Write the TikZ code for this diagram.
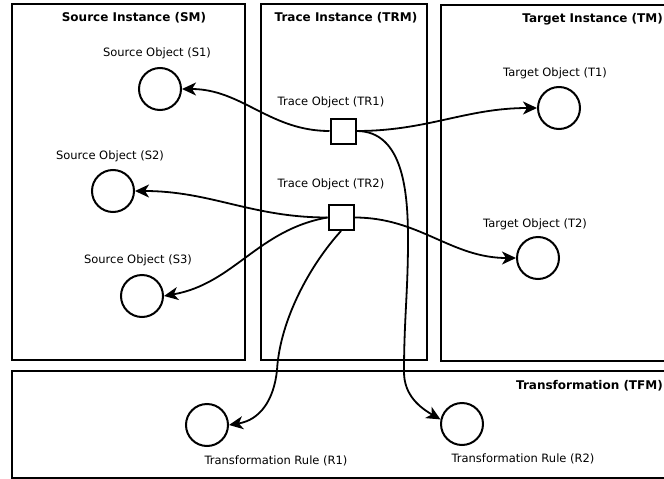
\documentclass[tikz,border=0pt]{standalone}
\usepackage{fontspec}
\setmainfont{DejaVu Sans}
\usetikzlibrary{arrows.meta}
\begin{document}
\begin{tikzpicture}[x=1pt,y=-1pt,
  panel/.style={draw,line width=2.2pt},
  ptitle/.style={font=\bfseries\fontsize{12}{14}\selectfont,inner sep=0pt},
  lbl/.style={font=\fontsize{11.5}{13}\selectfont,inner sep=0pt},
  obj/.style={draw,circle,line width=2pt,minimum size=42pt,inner sep=0pt},
  trc/.style={draw,rectangle,line width=2pt,minimum size=25pt,inner sep=0pt,fill=white},
  conn/.style={line width=1.8pt,-{Stealth[length=14pt,width=13pt,inset=4pt]}}]
\useasboundingbox (0,0) rectangle (664,479);
\clip (0,0) rectangle (664,479);
% panels
\draw[panel] (12,4) rectangle (245,360);
\draw[panel] (261,4) rectangle (427,360);
\draw[panel] (441,5) rectangle (690,361);
\draw[panel] (12,371) rectangle (690,478);
% titles
\node[ptitle] (tsm) at (134,18) {Source Instance (SM)};
\node[ptitle] (ttrm) at (346,18) {Trace Instance (TRM)};
\node[ptitle,anchor=east] (ttm) at (663,19) {Target Instance (TM)};
\node[ptitle,anchor=east] (ttfm) at (663,386) {Transformation (TFM)};
% objects
\node[obj] (s1) at (160,89) {};
\node[obj] (s2) at (113,191) {};
\node[obj] (s3) at (142,296) {};
\node[obj] (t1) at (559,108) {};
\node[obj] (t2) at (538,258) {};
\node[obj] (r1) at (207,425) {};
\node[obj] (r2) at (462,424) {};
\node[lbl] (ls1) at (157,53) {Source Object (S1)};
\node[lbl] (ls2) at (110,156) {Source Object (S2)};
\node[lbl] (ls3) at (138,260) {Source Object (S3)};
\node[lbl] (lt1) at (555,73) {Target Object (T1)};
\node[lbl] (lt2) at (535,224) {Target Object (T2)};
\node[lbl] (lr1) at (276,461) {Transformation Rule (R1)};
\node[lbl] (lr2) at (523,459) {Transformation Rule (R2)};
\node[lbl] (ltr1) at (331,102) {Trace Object (TR1)};
\node[lbl] (ltr2) at (331,184) {Trace Object (TR2)};
% trace objects
\node[trc] (tr1) at (343,131) {};
\node[trc] (tr2) at (341,217.5) {};
% connectors
\draw[conn] (tr1.west) to[out=180,in=0] (s1.east);
\draw[conn] (tr1.east) to[out=0,in=180] (t1.west);
\draw[conn] (tr1.east) to[out=0,in=90] (408,240) to[out=-90,in=90] (404,372) to[out=-90,in=150] (r2.168);
\draw[conn] (tr2.west) to[out=180,in=0] (s2.east);
\draw[conn] (tr2.west) to[out=190,in=10] (s3.east);
\draw[conn] (tr2.east) to[out=0,in=180] (t2.west);
\draw[conn] (tr2.south) .. controls (310,265) and (280,320) .. (277,370) .. controls (274,400) and (260,420) .. (r1.east);
\end{tikzpicture}
\end{document}
